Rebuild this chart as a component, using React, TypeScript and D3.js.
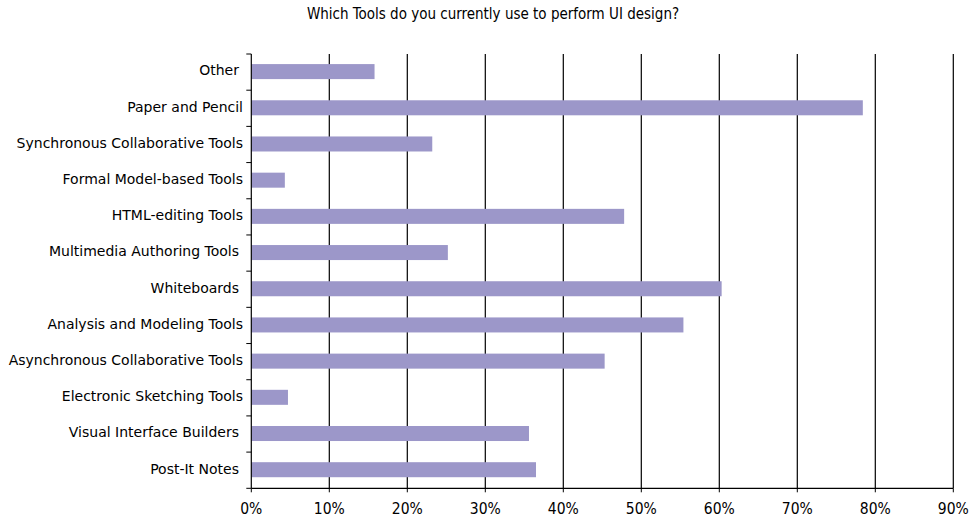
import React from "react";
import * as d3 from "d3";

const categories = [
  "Other",
  "Paper and Pencil",
  "Synchronous Collaborative Tools",
  "Formal Model-based Tools",
  "HTML-editing Tools",
  "Multimedia Authoring Tools",
  "Whiteboards",
  "Analysis and Modeling Tools",
  "Asynchronous Collaborative Tools",
  "Electronic Sketching Tools",
  "Visual Interface Builders",
  "Post-It Notes",
];
const trailingSpace = [true, false, false, false, false, true, true, false, false, false, true, true];
const values = [15.8, 78.4, 23.2, 4.3, 47.8, 25.2, 60.3, 55.4, 45.3, 4.7, 35.6, 36.5];
const xTicks = [0, 10, 20, 30, 40, 50, 60, 70, 80, 90];
const title = "Which Tools do you currently use to perform UI design?";

const W = 976;
const H = 518;
const left = 251.3;
const right = 953.3;
const top = 54;
const bottom = 488.3;

export default function App() {
  const x = d3.scaleLinear().domain([0, 90]).range([left, right]);
  const y = d3.scaleBand().domain(categories).range([top, bottom]).paddingInner(0.585).paddingOuter(0.2925);
  const band = (bottom - top) / categories.length;
  const boundaries = d3.range(categories.length + 1).map((i) => top + i * band);
  const labelFont = "'DejaVu Sans', sans-serif";
  const condFont = "'DejaVu Sans Condensed', 'DejaVu Sans', sans-serif";
  return (
    <svg width={W} height={H} style={{ position: "absolute", left: 0, top: 0, background: "#fff" }}>
      <rect x={0} y={0} width={W} height={H} fill="#fff" />
      <text x={493} y={19} textAnchor="middle" fontFamily={condFont} fontSize={15} fill="#000">
        {title}
      </text>
      {xTicks.slice(1).map((t) => (
        <line key={"g" + t} x1={x(t)} x2={x(t)} y1={top} y2={bottom} stroke="#000" strokeWidth={1.2} />
      ))}
      {categories.map((c, i) => (
        <rect key={c} x={x(0)} y={y(c)! - 0.5} width={x(values[i]) - x(0)} height={y.bandwidth()} fill="#9c97c9" />
      ))}
      <line x1={left} x2={left} y1={top} y2={bottom} stroke="#000" strokeWidth={1.2} />
      <line x1={left} x2={right} y1={bottom} y2={bottom} stroke="#000" strokeWidth={1.2} />
      {boundaries.map((b, i) => (
        <line key={"yt" + i} x1={left - 5} x2={left} y1={b} y2={b} stroke="#000" strokeWidth={1} />
      ))}
      {xTicks.map((t) => (
        <g key={"xt" + t}>
          <line x1={x(t)} x2={x(t)} y1={bottom} y2={bottom + 4} stroke="#000" strokeWidth={1} />
          <text x={x(t)} y={513.5} textAnchor="middle" fontFamily={condFont} fontSize={15.5} fill="#000">
            {t + "%"}
          </text>
        </g>
      ))}
      {categories.map((c, i) => (
        <text
          key={"l" + c}
          x={trailingSpace[i] ? 239 : 243}
          y={y(c)! + y.bandwidth() / 2 - 1.5}
          dy="0.35em"
          textAnchor="end"
          fontFamily={labelFont}
          fontSize={14}
          fill="#000"
        >
          {c}
        </text>
      ))}
    </svg>
  );
}
